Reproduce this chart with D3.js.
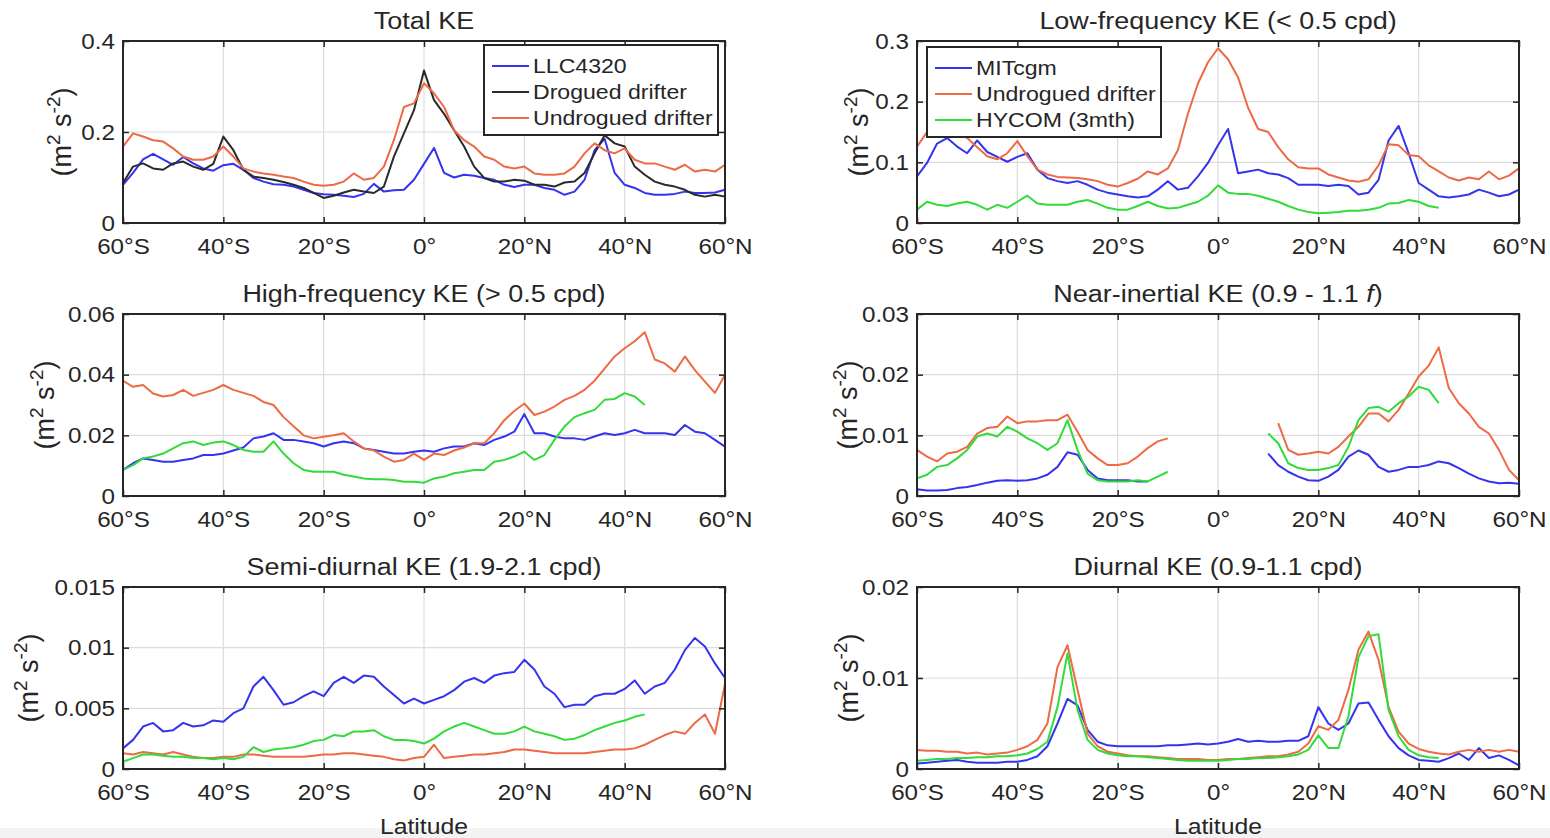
<!DOCTYPE html>
<html>
<head>
<meta charset="utf-8">
<script src="https://cdn.jsdelivr.net/npm/d3@7"></script>
<style>
body { margin: 0; background: #fff; }
svg { display: block; }
text { font-family: "Liberation Sans", Arial, Helvetica, sans-serif; fill: #262626; }
</style>
</head>
<body>
<svg id="fig" width="1550" height="838"></svg>
<script>
// latitude grid (degrees, negative = south)
var lat = [-60,-58,-56,-54,-52,-50,-48,-46,-44,-42,-40,-38,-36,-34,-32,-30,-28,-26,-24,-22,
           -20,-18,-16,-14,-12,-10,-8,-6,-4,-2,0,2,4,6,8,10,12,14,16,18,
           20,22,24,26,28,30,32,34,36,38,40,42,44,46,48,50,52,54,56,58,60];
var latTicks = [-60,-40,-20,0,20,40,60];
var latLabels = ["60°S","40°S","20°S","0°","20°N","40°N","60°N"];

// Total KE
var totalLLC = [0.084,0.11,0.14,0.152,0.14,0.128,0.145,0.131,0.12,0.115,
  0.127,0.13,0.117,0.099,0.091,0.085,0.084,0.08,0.073,0.066,
  0.063,0.062,0.06,0.057,0.064,0.086,0.069,0.072,0.073,0.095,
  0.13,0.165,0.11,0.1,0.106,0.104,0.099,0.095,0.084,0.079,
  0.084,0.084,0.077,0.073,0.062,0.069,0.095,0.16,0.185,0.11,
  0.084,0.077,0.066,0.062,0.062,0.064,0.069,0.066,0.066,0.067,0.073];
var totalDrogued = [0.088,0.124,0.131,0.12,0.117,0.131,0.135,0.124,0.117,0.13,
  0.19,0.16,0.117,0.102,0.099,0.095,0.09,0.084,0.077,0.066,
  0.055,0.06,0.067,0.073,0.069,0.066,0.08,0.146,0.197,0.248,
  0.335,0.27,0.24,0.204,0.168,0.124,0.099,0.091,0.091,0.095,
  0.093,0.084,0.084,0.08,0.089,0.091,0.11,0.153,0.193,0.175,
  0.168,0.124,0.106,0.091,0.084,0.08,0.073,0.062,0.058,0.062,0.058];
var totalUndrogued = [0.168,0.197,0.19,0.182,0.179,0.164,0.146,0.139,0.139,0.146,
  0.168,0.146,0.12,0.113,0.109,0.106,0.102,0.099,0.091,0.084,
  0.082,0.084,0.091,0.109,0.095,0.099,0.124,0.182,0.255,0.263,
  0.307,0.285,0.255,0.204,0.182,0.168,0.146,0.139,0.124,0.12,
  0.124,0.109,0.106,0.106,0.109,0.124,0.153,0.175,0.16,0.153,
  0.164,0.139,0.131,0.131,0.124,0.117,0.128,0.113,0.117,0.113,0.128];

// Low-frequency KE
var lowMIT = [0.077,0.099,0.131,0.14,0.126,0.115,0.136,0.117,0.109,0.101,
  0.109,0.115,0.088,0.074,0.069,0.066,0.069,0.063,0.055,0.05,
  0.047,0.044,0.042,0.044,0.055,0.069,0.055,0.058,0.077,0.099,
  0.128,0.155,0.082,0.085,0.088,0.082,0.08,0.074,0.063,0.063,
  0.063,0.061,0.063,0.061,0.047,0.05,0.071,0.136,0.16,0.115,
  0.066,0.055,0.044,0.042,0.044,0.047,0.055,0.05,0.044,0.047,0.055];
var lowUndrogued = [0.126,0.15,0.16,0.158,0.15,0.14,0.125,0.11,0.105,0.115,
  0.135,0.11,0.088,0.08,0.076,0.075,0.074,0.072,0.069,0.063,
  0.06,0.066,0.073,0.085,0.08,0.09,0.12,0.18,0.23,0.265,
  0.288,0.27,0.24,0.19,0.155,0.15,0.125,0.105,0.092,0.09,
  0.09,0.08,0.075,0.07,0.068,0.072,0.095,0.13,0.128,0.112,
  0.11,0.095,0.085,0.075,0.07,0.075,0.072,0.085,0.072,0.078,0.09];
var lowHycom = [0.022,0.035,0.03,0.028,0.032,0.035,0.03,0.022,0.03,0.025,
  0.035,0.045,0.032,0.03,0.03,0.03,0.035,0.038,0.032,0.025,
  0.022,0.022,0.028,0.035,0.028,0.024,0.025,0.03,0.035,0.045,
  0.062,0.05,0.048,0.048,0.045,0.04,0.035,0.028,0.022,0.018,
  0.016,0.017,0.018,0.02,0.02,0.022,0.025,0.032,0.033,0.038,
  0.035,0.028,0.025,null,null,null,null,null,null,null,null];

// High-frequency KE
var highLLC = [0.0086,0.0108,0.0124,0.0119,0.0113,0.0113,0.0119,0.0124,0.0135,0.0135,
  0.014,0.015,0.016,0.019,0.0196,0.0207,0.0185,0.0185,0.018,0.0174,
  0.0163,0.0174,0.018,0.0174,0.0157,0.0152,0.0146,0.014,0.014,0.0146,
  0.015,0.0146,0.0157,0.0163,0.0163,0.0174,0.0168,0.0185,0.0196,0.0212,
  0.027,0.0207,0.0207,0.0196,0.019,0.019,0.0185,0.0196,0.0207,0.0201,
  0.0207,0.0218,0.0207,0.0207,0.0207,0.0201,0.0234,0.0212,0.0207,0.0185,0.0163];
var highUndrogued = [0.038,0.036,0.0366,0.0338,0.0328,0.0333,0.035,0.033,0.034,0.035,
  0.0366,0.035,0.034,0.033,0.031,0.03,0.026,0.023,0.02,0.019,
  0.0195,0.02,0.0207,0.018,0.0157,0.015,0.013,0.0113,0.0119,0.014,
  0.0119,0.014,0.0135,0.015,0.016,0.0174,0.0174,0.0207,0.025,0.028,
  0.0305,0.0267,0.0278,0.0295,0.0317,0.033,0.035,0.038,0.042,0.046,
  0.0487,0.051,0.054,0.045,0.0437,0.041,0.046,0.0415,0.0377,0.034,0.04];
var highHycom = [0.0086,0.0102,0.0124,0.013,0.014,0.0157,0.0174,0.018,0.0168,0.0176,
  0.018,0.0168,0.0152,0.0146,0.0146,0.018,0.014,0.0108,0.0086,0.008,
  0.008,0.008,0.007,0.0064,0.0058,0.0055,0.0055,0.0053,0.0047,0.0047,
  0.0044,0.0058,0.0064,0.0075,0.008,0.0086,0.0086,0.0113,0.0119,0.013,
  0.0146,0.0119,0.0135,0.0185,0.0229,0.026,0.0273,0.0284,0.0317,0.032,
  0.0339,0.0328,0.03,null,null,null,null,null,null,null,null];

// Near-inertial KE
var nearLLC = [0.0011,0.0009,0.0009,0.001,0.0013,0.0015,0.0018,0.0022,0.0025,0.0026,
  0.0025,0.0026,0.0029,0.0035,0.0048,0.0072,0.0068,0.0043,0.0029,0.0026,
  0.0026,0.0026,0.0024,0.0024,null,null,null,null,null,null,
  null,null,null,null,null,0.007,0.0051,0.004,0.0032,0.0026,
  0.0025,0.0032,0.0043,0.0065,0.0075,0.0068,0.0048,0.004,0.0043,0.0048,
  0.0048,0.0051,0.0057,0.0054,0.0046,0.0037,0.0029,0.0024,0.0021,0.0022,0.002];
var nearUndrogued = [0.0076,0.0065,0.0057,0.007,0.0073,0.0081,0.0103,0.0112,0.0114,0.0131,
  0.012,0.0123,0.0123,0.0125,0.0125,0.0134,0.0106,0.0076,0.0062,0.0051,
  0.0051,0.0054,0.0065,0.0079,0.009,0.0095,null,null,null,null,
  null,null,null,null,null,null,0.012,0.0076,0.0068,0.007,
  0.0073,0.007,0.0081,0.0098,0.0114,0.0136,0.0136,0.0123,0.0142,0.0169,
  0.0197,0.0215,0.0245,0.0178,0.0153,0.0136,0.0114,0.0103,0.0076,0.0043,0.0026];
var nearHycom = [0.0029,0.0035,0.0048,0.0051,0.0062,0.0076,0.0098,0.0103,0.0098,0.0114,
  0.0106,0.0095,0.0087,0.0076,0.0087,0.0125,0.0076,0.0037,0.0026,0.0024,
  0.0024,0.0024,0.0026,0.0024,0.0032,0.004,null,null,null,null,
  null,null,null,null,null,0.0103,0.0087,0.0054,0.0046,0.0043,
  0.0043,0.0046,0.0051,0.0081,0.0125,0.0145,0.0147,0.0139,0.0153,0.0164,
  0.018,0.0175,0.0153,null,null,null,null,null,null,null,null];

// Semi-diurnal KE
var semiLLC = [0.0017,0.0024,0.0035,0.0038,0.0031,0.0032,0.0038,0.0035,0.0036,0.004,
  0.0039,0.0046,0.005,0.0068,0.0076,0.0065,0.0053,0.0055,0.006,0.0064,
  0.006,0.0071,0.0076,0.0071,0.0077,0.0076,0.0068,0.0061,0.0054,0.0058,
  0.0054,0.0057,0.006,0.0065,0.0072,0.0075,0.0071,0.0077,0.0079,0.008,
  0.009,0.0082,0.0068,0.0062,0.0051,0.0053,0.0053,0.006,0.0062,0.0062,
  0.0066,0.0073,0.0062,0.0068,0.0071,0.0082,0.0098,0.0108,0.0101,0.0087,0.0075];
var semiUndrogued = [0.0013,0.0012,0.0014,0.0013,0.0012,0.0014,0.0012,0.001,0.0009,0.0009,
  0.001,0.001,0.0012,0.0012,0.0011,0.001,0.001,0.001,0.001,0.0011,
  0.0012,0.0012,0.0013,0.0013,0.0012,0.0011,0.001,0.0008,0.0007,0.0009,
  0.001,0.002,0.0009,0.001,0.0011,0.0012,0.0012,0.0013,0.0014,0.0016,
  0.0016,0.0015,0.0014,0.0013,0.0013,0.0013,0.0013,0.0014,0.0015,0.0016,
  0.0016,0.0017,0.002,0.0024,0.0028,0.0031,0.0029,0.0038,0.0045,0.0029,0.007];
var semiHycom = [0.0006,0.0009,0.0012,0.0012,0.0011,0.001,0.001,0.0009,0.0009,0.0008,
  0.0009,0.0008,0.001,0.0018,0.0014,0.0016,0.0017,0.0018,0.002,0.0023,
  0.0024,0.0028,0.0027,0.0031,0.0031,0.0032,0.0027,0.0024,0.0024,0.0023,
  0.0021,0.0025,0.0031,0.0035,0.0038,0.0035,0.0032,0.0029,0.0029,0.0031,
  0.0035,0.0031,0.0029,0.0027,0.0024,0.0025,0.0028,0.0032,0.0035,0.0038,
  0.004,0.0043,0.0045,null,null,null,null,null,null,null,null];

// Diurnal KE
var diurnalLLC = [0.0006,0.0007,0.0008,0.0009,0.001,0.0008,0.0007,0.0007,0.0007,0.0008,
  0.0008,0.001,0.0014,0.0025,0.005,0.0077,0.007,0.0043,0.003,0.0026,
  0.0025,0.0025,0.0025,0.0025,0.0025,0.0026,0.0026,0.0027,0.0028,0.0027,
  0.0028,0.003,0.0033,0.003,0.0031,0.003,0.003,0.0031,0.0031,0.0036,
  0.0068,0.005,0.0043,0.005,0.0072,0.0073,0.0054,0.0036,0.0023,0.0015,
  0.001,0.0009,0.0008,0.0012,0.0017,0.001,0.0023,0.0012,0.0015,0.001,0.0004];
var diurnalUndrogued = [0.0021,0.002,0.002,0.0019,0.0019,0.0017,0.0018,0.0016,0.0017,0.0018,
  0.0021,0.0025,0.0032,0.005,0.0112,0.0136,0.0087,0.0039,0.0025,0.0019,
  0.0017,0.0015,0.0014,0.0014,0.0013,0.0012,0.0011,0.0011,0.0011,0.001,
  0.001,0.0011,0.0011,0.0012,0.0013,0.0014,0.0014,0.0016,0.0019,0.0028,
  0.0047,0.0043,0.0054,0.0087,0.0131,0.0151,0.012,0.0068,0.0041,0.0028,
  0.0022,0.0019,0.0017,0.0016,0.0019,0.0021,0.0019,0.0021,0.0019,0.0021,0.0019];
var diurnalHycom = [0.0009,0.001,0.0011,0.0011,0.0012,0.0012,0.0013,0.0013,0.0014,0.0014,
  0.0015,0.0017,0.0022,0.003,0.0068,0.0127,0.0065,0.0032,0.0021,0.0017,
  0.0015,0.0014,0.0014,0.0013,0.0012,0.0011,0.001,0.0009,0.0009,0.0009,
  0.0009,0.001,0.0011,0.0011,0.0012,0.0012,0.0013,0.0014,0.0016,0.0021,
  0.0037,0.0023,0.0023,0.0058,0.0123,0.0146,0.0148,0.0065,0.0036,0.0021,
  0.0015,0.0013,0.0012,null,null,null,null,null,null,null,null];

// y ticks per panel
var totalTicks = [0,0.2,0.4], totalTickLabels = ["0","0.2","0.4"];
var lowTicks = [0,0.1,0.2,0.3], lowTickLabels = ["0","0.1","0.2","0.3"];
var highTicks = [0,0.02,0.04,0.06], highTickLabels = ["0","0.02","0.04","0.06"];
var nearTicks = [0,0.01,0.02,0.03], nearTickLabels = ["0","0.01","0.02","0.03"];
var semiTicks = [0,0.005,0.01,0.015], semiTickLabels = ["0","0.005","0.01","0.015"];
var diurnalTicks = [0,0.01,0.02], diurnalTickLabels = ["0","0.01","0.02"];

var col = { blue: "#3434ee", black: "#2a2a2a", orange: "#ee6a45", green: "#31dc3a" };

var panels = [
  { title: ["Total KE"], ticks: totalTicks, labels: totalTickLabels, c: 0, r: 0, yoff: 62,
    series: [[totalLLC, col.blue], [totalDrogued, col.black], [totalUndrogued, col.orange]],
    legend: ["LLC4320", "Drogued drifter", "Undrogued drifter"], legendAt: "ne" },
  { title: ["Low-frequency KE (< 0.5 cpd)"], ticks: lowTicks, labels: lowTickLabels, c: 1, r: 0, yoff: 59,
    series: [[lowMIT, col.blue], [lowUndrogued, col.orange], [lowHycom, col.green]],
    legend: ["MITcgm", "Undrogued drifter", "HYCOM (3mth)"], legendAt: "nw" },
  { title: ["High-frequency KE (> 0.5 cpd)"], ticks: highTicks, labels: highTickLabels, c: 0, r: 1, yoff: 79,
    series: [[highLLC, col.blue], [highUndrogued, col.orange], [highHycom, col.green]] },
  { title: ["Near-inertial KE (0.9 - 1.1 ", "f", ")"], ticks: nearTicks, labels: nearTickLabels, c: 1, r: 1, yoff: 70,
    series: [[nearLLC, col.blue], [nearUndrogued, col.orange], [nearHycom, col.green]] },
  { title: ["Semi-diurnal KE (1.9-2.1 cpd)"], ticks: semiTicks, labels: semiTickLabels, c: 0, r: 2, yoff: 95,
    series: [[semiLLC, col.blue], [semiUndrogued, col.orange], [semiHycom, col.green]], xlabel: "Latitude" },
  { title: ["Diurnal KE (0.9-1.1 cpd)"], ticks: diurnalTicks, labels: diurnalTickLabels, c: 1, r: 2, yoff: 69,
    series: [[diurnalLLC, col.blue], [diurnalUndrogued, col.orange], [diurnalHycom, col.green]], xlabel: "Latitude" }
];

var colX = [123, 917], pw = 602;
var rowY = [41, 314, 587], ph = 182;

// the source figure is a bit wider than tall, so the lettering is stretched sideways
function widen(sel) {
  sel.each(function() {
    var t = d3.select(this);
    var x0 = +t.attr("x") || 0;
    t.attr("transform", "translate(" + x0 + ",0) scale(1.1,1) translate(" + (-x0) + ",0)");
  });
}

var svg = d3.select("#fig");
svg.append("rect").attr("width", 1550).attr("height", 838).attr("fill", "#fff");
svg.append("rect").attr("y", 828).attr("width", 1550).attr("height", 10).attr("fill", "#f3f3f3");

panels.forEach(function(p) {
  var g = svg.append("g").attr("transform", "translate(" + colX[p.c] + "," + rowY[p.r] + ")");
  var x = d3.scaleLinear().domain([-60, 60]).range([0, pw]);
  var y = d3.scaleLinear().domain([0, p.ticks[p.ticks.length - 1]]).range([ph, 0]);

  // grid
  g.append("g").selectAll("line").data(latTicks).enter().append("line")
    .attr("x1", function(d){ return x(d); }).attr("x2", function(d){ return x(d); })
    .attr("y1", 0).attr("y2", ph).attr("stroke", "#dcdcdc").attr("stroke-width", 1.2);
  g.append("g").selectAll("line").data(p.ticks).enter().append("line")
    .attr("x1", 0).attr("x2", pw)
    .attr("y1", function(d){ return y(d); }).attr("y2", function(d){ return y(d); })
    .attr("stroke", "#dcdcdc").attr("stroke-width", 1.2);

  // data lines
  var line = d3.line()
    .defined(function(d){ return d[1] != null; })
    .x(function(d){ return x(d[0]); })
    .y(function(d){ return y(d[1]); });
  p.series.forEach(function(s) {
    var pts = lat.map(function(l, i){ return [l, s[0][i]]; });
    g.append("path").attr("d", line(pts)).attr("fill", "none")
      .attr("stroke", s[1]).attr("stroke-width", 2).attr("stroke-linejoin", "round");
  });

  // axes (ticks point inward, like MATLAB)
  var xa = g.append("g").attr("transform", "translate(0," + ph + ")")
    .call(d3.axisBottom(x).tickValues(latTicks).tickFormat(function(d, i){ return latLabels[i]; })
      .tickSizeInner(-6).tickSizeOuter(0).tickPadding(15));
  var ya = g.append("g")
    .call(d3.axisLeft(y).tickValues(p.ticks).tickFormat(function(d, i){ return p.labels[i]; })
      .tickSizeInner(-6).tickSizeOuter(0).tickPadding(8));
  g.append("g").call(d3.axisTop(x).tickValues(latTicks).tickFormat("").tickSizeInner(-6).tickSizeOuter(0));
  g.append("g").attr("transform", "translate(" + pw + ",0)")
    .call(d3.axisRight(y).tickValues(p.ticks).tickFormat("").tickSizeInner(-6).tickSizeOuter(0));
  g.selectAll(".domain").remove();
  g.selectAll(".tick line").attr("stroke", "#262626").attr("stroke-width", 1.5);
  [xa, ya].forEach(function(a) {
    a.attr("font-family", null).attr("font-size", null);
    a.selectAll("text").attr("font-size", 22).attr("fill", "#262626").call(widen);
  });

  g.append("rect").attr("width", pw).attr("height", ph)
    .attr("fill", "none").attr("stroke", "#262626").attr("stroke-width", 2);

  // title
  var t = g.append("text").attr("x", pw / 2).attr("y", -12)
    .attr("text-anchor", "middle").attr("font-size", 24.5);
  p.title.forEach(function(s, i) {
    var ts = t.append("tspan").text(s);
    if (i === 1) ts.attr("font-style", "italic");
  });
  t.call(widen);

  // y label
  var yl = g.append("text")
    .attr("transform", "translate(" + (10 - p.yoff) + "," + (ph / 2) + ") rotate(-90)")
    .attr("text-anchor", "middle").attr("font-size", 27);
  yl.append("tspan").text("(m");
  yl.append("tspan").text("2").attr("font-size", 19).attr("dy", -11);
  yl.append("tspan").text(" s").attr("dy", 11);
  yl.append("tspan").text("-2").attr("font-size", 19).attr("dy", -11);
  yl.append("tspan").text(")").attr("dy", 11);

  if (p.xlabel) {
    g.append("text").attr("x", pw / 2).attr("y", ph + 65)
      .attr("text-anchor", "middle").attr("font-size", 22.5).text(p.xlabel).call(widen);
  }

  // legend
  if (p.legend) {
    var lw = 234, lh = 90, rowH = 26;
    var lx = p.legendAt === "ne" ? pw - lw - 7 : 10;
    var ly = p.legendAt === "ne" ? 4 : 6;
    var lg = g.append("g").attr("transform", "translate(" + lx + "," + ly + ")");
    lg.append("rect").attr("width", lw).attr("height", lh)
      .attr("fill", "#fff").attr("stroke", "#262626").attr("stroke-width", 2);
    p.legend.forEach(function(name, i) {
      var cy = 21 + i * rowH;
      lg.append("line").attr("x1", 8).attr("x2", 45).attr("y1", cy).attr("y2", cy)
        .attr("stroke", p.series[i][1]).attr("stroke-width", 2);
      lg.append("text").attr("x", 49).attr("y", cy).attr("dy", "0.35em")
        .attr("font-size", 21).text(name).call(widen);
    });
  }
});
</script>
</body>
</html>
